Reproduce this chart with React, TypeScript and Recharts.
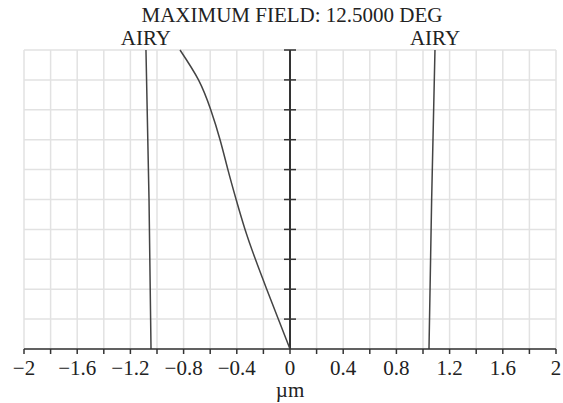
import {
  ComposedChart,
  CartesianGrid,
  Line,
  ReferenceDot,
  ReferenceLine,
  XAxis,
  YAxis,
} from "recharts";

const FONT = "'Liberation Serif', 'Times New Roman', serif";

// relative field (0..1) against lateral colour, in µm
const fieldY = [0, 0.1, 0.2, 0.3, 0.4, 0.5, 0.6, 0.7, 0.8, 0.9, 1.0];
const lateralX = [0, -0.088, -0.175, -0.26, -0.338, -0.405, -0.467, -0.526, -0.596, -0.688, -0.827];

const airyY = [0, 0.5, 1.0];
const airyLeftX = [-1.045, -1.06, -1.083];
const airyRightX = [1.045, 1.065, 1.09];

const xTicks = [
  -2, -1.8, -1.6, -1.4, -1.2, -1, -0.8, -0.6, -0.4, -0.2, 0, 0.2, 0.4, 0.6, 0.8, 1, 1.2, 1.4, 1.6, 1.8, 2,
];
const yTicks = [0, 0.1, 0.2, 0.3, 0.4, 0.5, 0.6, 0.7, 0.8, 0.9, 1.0];
const centerTicks = [0.1, 0.2, 0.3, 0.4, 0.5, 0.6, 0.7, 0.8, 0.9, 1.0];

const lateral = fieldY.map((y, i) => ({ x: lateralX[i], y }));
const airyLeft = airyY.map((y, i) => ({ x: airyLeftX[i], y }));
const airyRight = airyY.map((y, i) => ({ x: airyRightX[i], y }));
const centerMarks = centerTicks.map((y) => ({ x: 0, y }));

function fmtTick(v: number) {
  const i = Math.round(v * 10);
  if (i % 4 !== 0) return "";
  const s = String(Math.abs(i / 10));
  return v < 0 ? "\u2212" + s : s;
}

function TickMark(props: any) {
  const { cx, cy, index } = props;
  return (
    <line key={index} x1={cx - 6} x2={cx + 6} y1={cy} y2={cy} stroke="#333" strokeWidth={1.5} />
  );
}

export default function App() {
  return (
    <div style={{ position: "absolute", left: 0, top: 0, width: 563, height: 403, background: "#fff" }}>
      <div
        style={{
          position: "absolute",
          left: 0,
          width: 584,
          top: 5,
          textAlign: "center",
          fontFamily: FONT,
          fontSize: 21,
          lineHeight: "21px",
          color: "#222",
        }}
      >
        MAXIMUM FIELD: 12.5000 DEG
      </div>
      <ComposedChart
        width={563}
        height={403}
        margin={{ top: 50, right: 7, bottom: 24, left: 24 }}
        style={{ fontFamily: FONT }}
      >
        <CartesianGrid stroke="#e2e2e2" strokeWidth={1.5} horizontal={false} />
        {yTicks.map((t) => (
          <ReferenceLine key={t} y={t} stroke="#e2e2e2" strokeWidth={1.5} />
        ))}
        <XAxis
          type="number"
          dataKey="x"
          domain={[-2, 2]}
          ticks={xTicks}
          interval={0}
          height={30}
          tickSize={5}
          tickMargin={6}
          tickFormatter={fmtTick}
          stroke="#333"
          strokeWidth={1.5}
          fontSize={21}
          tick={{ fill: "#222", fontSize: 21 }}
          label={{ value: "\u00b5m", position: "insideBottom", offset: -18, fill: "#222", fontSize: 21 }}
        />
        <YAxis
          type="number"
          dataKey="y"
          domain={[0, 1]}
          width={0}
          tick={false}
          tickLine={false}
          axisLine={false}
        />
        <ReferenceLine x={0} stroke="#333" strokeWidth={2} />
        <Line
          data={centerMarks}
          dataKey="y"
          stroke="none"
          dot={TickMark}
          activeDot={false}
          isAnimationActive={false}
        />
        <Line
          data={lateral}
          dataKey="y"
          type="natural"
          stroke="#444"
          strokeWidth={1.5}
          dot={false}
          isAnimationActive={false}
        />
        <Line
          data={airyLeft}
          dataKey="y"
          type="linear"
          stroke="#444"
          strokeWidth={1.5}
          dot={false}
          isAnimationActive={false}
        />
        <Line
          data={airyRight}
          dataKey="y"
          type="linear"
          stroke="#444"
          strokeWidth={1.5}
          dot={false}
          isAnimationActive={false}
        />
        <ReferenceDot
          x={airyLeftX[airyLeftX.length - 1]}
          y={1}
          r={0}
          label={{ value: "AIRY", position: "top", offset: 5, fill: "#222", fontSize: 21 }}
        />
        <ReferenceDot
          x={airyRightX[airyRightX.length - 1]}
          y={1}
          r={0}
          label={{ value: "AIRY", position: "top", offset: 5, fill: "#222", fontSize: 21 }}
        />
      </ComposedChart>
    </div>
  );
}
